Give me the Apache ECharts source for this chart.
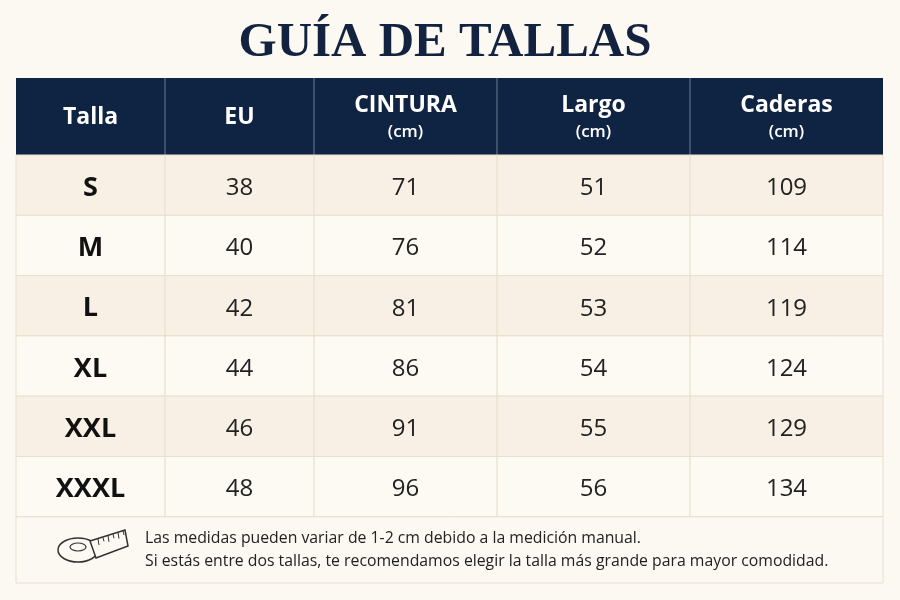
<!DOCTYPE html>
<html><head><meta charset="utf-8">
<script src="https://cdn.jsdelivr.net/npm/echarts@6/dist/echarts.min.js"></script>
<style>html,body{margin:0;background:#fcf8f2}#c{width:900px;height:600px}</style>
</head><body><div id="c"></div>
<script>
const title = 'GUÍA DE TALLAS';
const headers = ['Talla','EU','CINTURA','Largo','Caderas'];
const subHeaders = ['','','(cm)','(cm)','(cm)'];
const sizes = ['S','M','L','XL','XXL','XXXL'];
const eu = [38,40,42,44,46,48];
const cintura = [71,76,81,86,91,96];
const largo = [51,52,53,54,55,56];
const caderas = [109,114,119,124,129,134];
const notes = ['Las medidas pueden variar de 1-2 cm debido a la medición manual.',
  'Si estás entre dos tallas, te recomendamos elegir la talla más grande para mayor comodidad.'];

const colX = [16,165,314,497,690,883];
const tTop = 78, headH = 77, rowH = 60.3, navy = '#0f2342', line = '#eadfcd';
const els = [];
els.push({type:'text',style:{text:title,x:445,y:43,align:'center',verticalAlign:'middle',font:'bold 49px "Liberation Serif", serif',fill:'#13233f'}});
els.push({type:'rect',shape:{x:colX[0],y:tTop,width:colX[5]-colX[0],height:headH},style:{fill:navy}});
const cols = [sizes,eu,cintura,largo,caderas];
for(let c=0;c<5;c++){
  const cx=(colX[c]+colX[c+1])/2;
  if(subHeaders[c]){
    els.push({type:'text',style:{text:headers[c],x:cx,y:tTop+27,align:'center',verticalAlign:'middle',font:'bold 23px "Open Sans", sans-serif',fill:'#fff'}});
    els.push({type:'text',style:{text:subHeaders[c],x:cx,y:tTop+54,align:'center',verticalAlign:'middle',font:'600 17px "Open Sans", sans-serif',fill:'#fff'}});
  } else {
    els.push({type:'text',style:{text:headers[c],x:cx,y:tTop+39,align:'center',verticalAlign:'middle',font:'bold 23px "Open Sans", sans-serif',fill:'#fff'}});
  }
  if(c>0) els.push({type:'line',shape:{x1:colX[c],y1:tTop,x2:colX[c],y2:tTop+headH},style:{stroke:'#6f7d93',lineWidth:1}});
}
const y0=tTop+headH;
sizes.forEach((s,r)=>{
  const y=y0+r*rowH;
  els.push({type:'rect',shape:{x:colX[0],y:y,width:colX[5]-colX[0],height:rowH},style:{fill:r%2===0?'#f8f0e4':'#fdf9f3',stroke:line,lineWidth:1}});
  for(let c=0;c<5;c++){
    const cx=(colX[c]+colX[c+1])/2;
    els.push({type:'text',style:{text:String(cols[c][r]),x:cx,y:y+rowH/2+3,align:'center',verticalAlign:'middle',font:(c===0?'bold 27px':'24px')+' "Open Sans", sans-serif',fill:c===0?'#111':'#222'}});
    if(c>0) els.push({type:'line',shape:{x1:colX[c],y1:y,x2:colX[c],y2:y+rowH},style:{stroke:line,lineWidth:1.2}});
  }
});
const fy=y0+6*rowH;
els.push({type:'rect',shape:{x:colX[0],y:fy,width:colX[5]-colX[0],height:583-fy},style:{fill:'#fcf8f2',stroke:line,lineWidth:1}});
notes.forEach((t,i)=>els.push({type:'text',style:{text:t,x:145,y:fy+22+i*23,verticalAlign:'middle',font:'15.8px "Open Sans", sans-serif',fill:'#222'}}));
els.push({type:'ellipse',shape:{cx:78,cy:550,rx:20,ry:12},style:{fill:'#fcf8f2',stroke:'#333',lineWidth:1.5}});
els.push({type:'ellipse',shape:{cx:78,cy:547,rx:8,ry:4},style:{fill:'none',stroke:'#333',lineWidth:1.2}});
els.push({type:'polygon',shape:{points:[[90,541],[125,530],[128,546],[96,558]]},style:{fill:'#fcf8f2',stroke:'#333',lineWidth:1.5}});
for(let k=0;k<6;k++){const px=98+k*5,py=539-k*1.6;els.push({type:'line',shape:{x1:px,y1:py,x2:px+1,y2:py+(k%2?4:6)},style:{stroke:'#333',lineWidth:1}});}
const chart=echarts.init(document.getElementById('c'));
chart.setOption({backgroundColor:'#fcf8f2',graphic:{elements:els}});
</script></body></html>
